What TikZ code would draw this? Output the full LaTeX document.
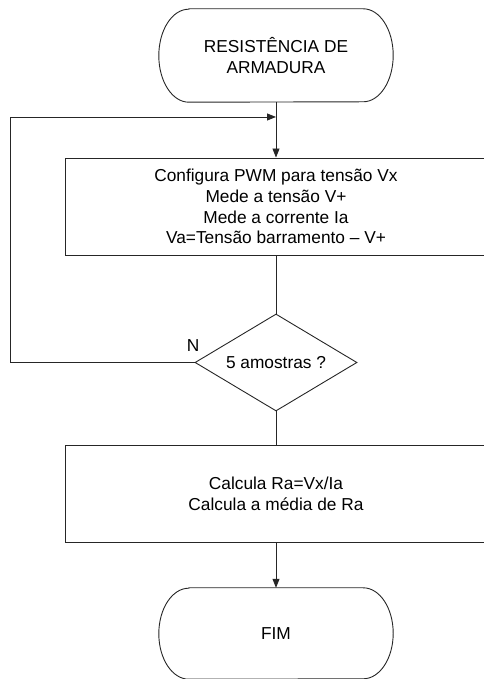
\documentclass[tikz,border=0pt]{standalone}
\usepackage{fontspec}
\setmainfont{Liberation Sans}
\usetikzlibrary{arrows.meta,shapes.geometric}
\begin{document}
\begin{tikzpicture}[x=1pt,y=1pt,
  every node/.style={font=\fontsize{17.3}{20.8}\selectfont, text=black},
  ln/.style={line width=0.9pt, draw=black!85},
  arr/.style={ln, -{Triangle[length=9pt,width=7pt]}},
  procbox/.style={ln, draw, rectangle, minimum width=422pt, minimum height=97pt, align=center, inner sep=0pt},
  termtext/.style={rectangle, minimum width=234pt, minimum height=93pt, align=center, inner sep=0pt},
  decbox/.style={ln, draw, diamond, aspect=1.67, minimum width=162pt, minimum height=97pt, inner sep=0pt}]
\useasboundingbox (0,0) rectangle (483,679);
% nodes
\node[termtext] (t1) at (276,623.5) {RESISTÊNCIA DE\\ARMADURA};
\node[procbox] (b1) at (276,472.5) {Configura PWM para tensão Vx\\Mede a tensão V+\\Mede a corrente Ia\\Va=Tensão barramento – V+};
\node[decbox] (d1) at (276,316.5) {};
\node at (276,316.5) {5 amostras ?};
\node[procbox] (b2) at (276,185.5) {Calcula Ra=Vx/Ia\\Calcula a média de Ra};
\node[termtext, minimum height=91pt] (t2) at (276,45.5) {FIM};
\node (n) at (193,333) {N};
% terminal shapes
\draw[ln] ([xshift=30pt]t1.north west) -- ([xshift=-30pt]t1.north east)
  arc[start angle=90, end angle=-90, x radius=30pt, y radius=46.5pt]
  -- ([xshift=30pt]t1.south west)
  arc[start angle=270, end angle=90, x radius=30pt, y radius=46.5pt] -- cycle;
\draw[ln] ([xshift=30pt]t2.north west) -- ([xshift=-30pt]t2.north east)
  arc[start angle=90, end angle=-90, x radius=30pt, y radius=45.5pt]
  -- ([xshift=30pt]t2.south west)
  arc[start angle=270, end angle=90, x radius=30pt, y radius=45.5pt] -- cycle;
% connectors
\coordinate (j) at (276,562);
\coordinate (lb) at (10,316.5);
\coordinate (lt) at (10,562);
\draw[arr] (t1.south) -- (b1.north);
\draw[ln] (b1.south) -- (d1.north);
\draw[ln] (d1.south) -- (b2.north);
\draw[arr] (b2.south) -- (t2.north);
\draw[arr] (d1.west) -- (lb) -- (lt) -- (j);
\end{tikzpicture}
\end{document}
